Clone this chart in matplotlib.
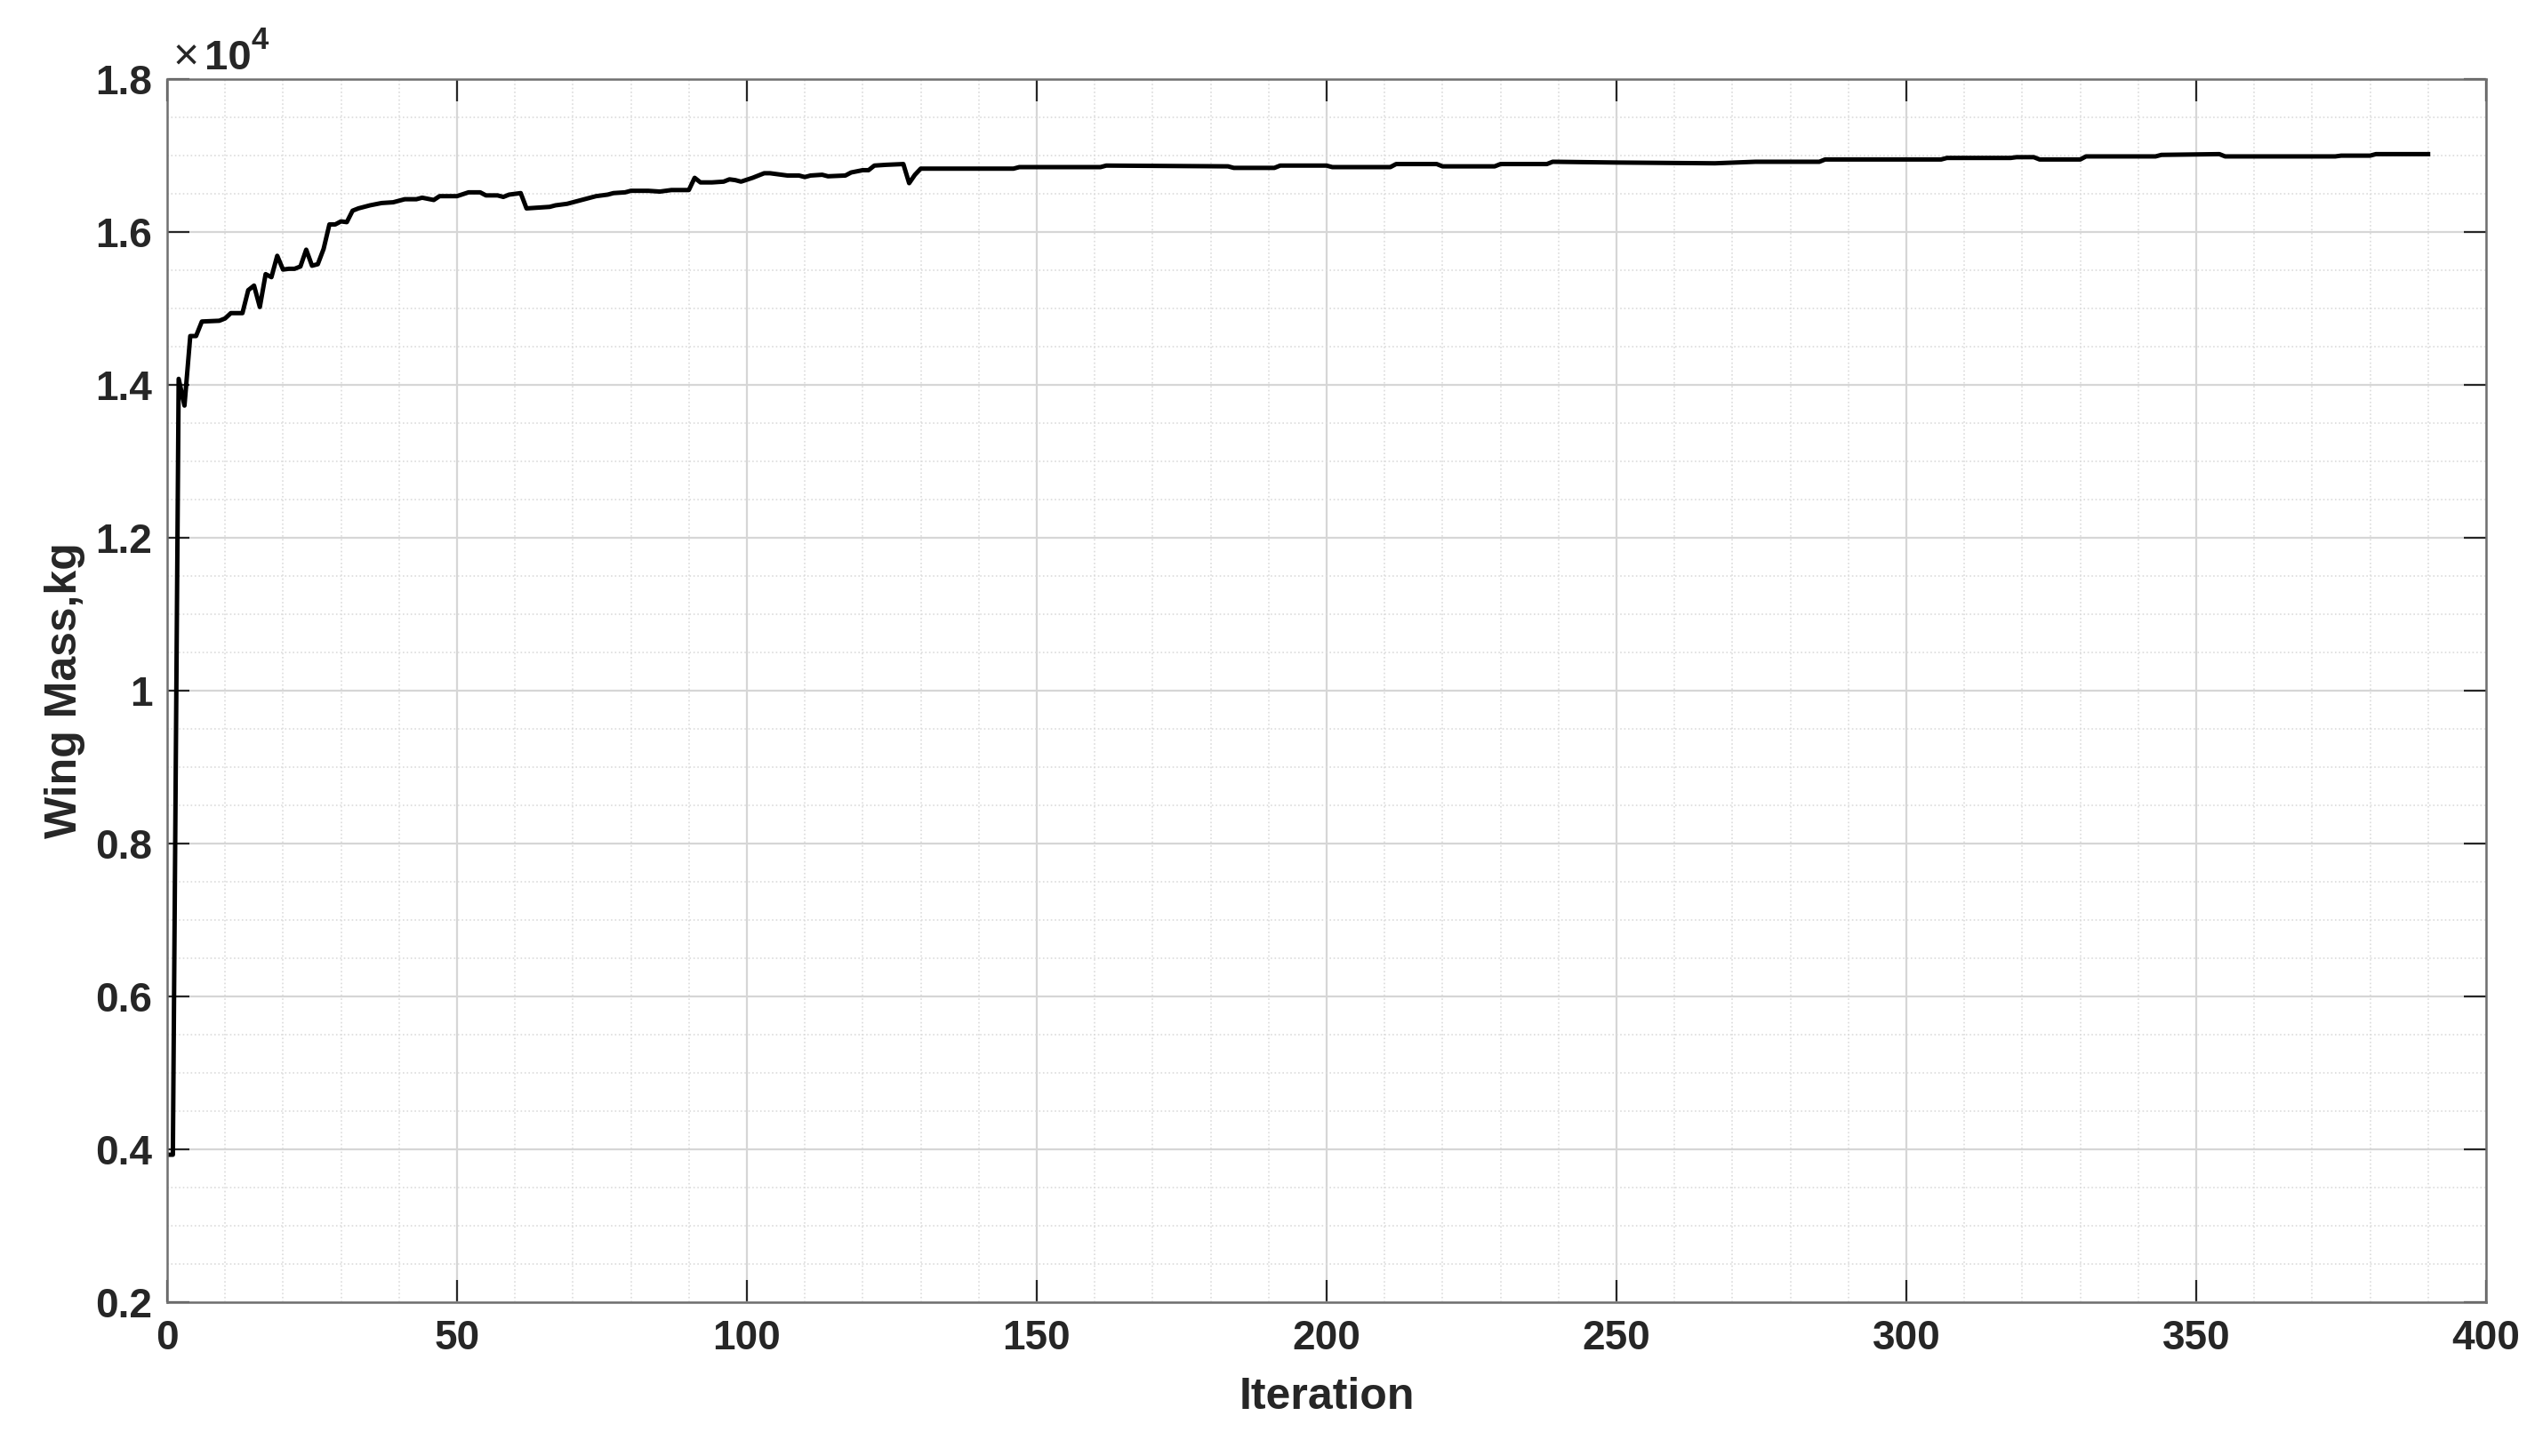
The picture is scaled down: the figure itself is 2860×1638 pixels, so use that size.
import matplotlib

matplotlib.use("Agg")
import matplotlib.pyplot as plt
from matplotlib.ticker import FixedLocator, MultipleLocator

# wing mass history (iteration, kg)
iteration = [
    0, 1, 2, 3, 4, 5, 6, 9, 10, 11, 13, 14, 15, 16, 17, 18, 19, 20, 21, 22,
    23, 24, 25, 26, 27, 28, 29, 30, 31, 32, 33, 34, 35, 37, 39, 41, 43, 44,
    46, 47, 50, 52, 54, 55, 57, 58, 59, 61, 62, 66, 67, 69, 71, 74, 76, 77,
    79, 80, 83, 85, 87, 90, 91, 92, 94, 96, 97, 98, 99, 101, 102, 103, 104,
    107, 109, 110, 111, 113, 114, 117, 118, 120, 121, 122, 124, 127, 128,
    129, 130, 146, 147, 161, 162, 183, 184, 191, 192, 200, 201, 211, 212,
    219, 220, 229, 230, 238, 239, 250, 267, 274, 285, 286, 294, 295, 306,
    307, 318, 319, 322, 323, 330, 331, 343, 344, 354, 355, 374, 375, 380,
    381, 390,
]
wing_mass = [
    3930, 3930, 14080, 13730, 14640, 14640, 14830, 14840, 14870, 14940,
    14940, 15240, 15300, 15020, 15450, 15410, 15690, 15510, 15520, 15520,
    15550, 15770, 15560, 15580, 15780, 16100, 16100, 16140, 16130, 16280,
    16310, 16330, 16350, 16380, 16390, 16430, 16430, 16450, 16420, 16470,
    16470, 16520, 16520, 16480, 16480, 16460, 16490, 16510, 16310, 16330,
    16350, 16370, 16410, 16470, 16490, 16510, 16520, 16540, 16540, 16530,
    16550, 16550, 16710, 16650, 16650, 16660, 16690, 16680, 16660, 16710,
    16740, 16770, 16770, 16740, 16740, 16720, 16740, 16750, 16730, 16740,
    16780, 16810, 16810, 16870, 16880, 16890, 16640, 16750, 16830, 16830,
    16850, 16850, 16870, 16860, 16840, 16840, 16870, 16870, 16850, 16850,
    16890, 16890, 16860, 16860, 16890, 16890, 16920, 16910, 16900, 16920,
    16920, 16950, 16950, 16950, 16950, 16970, 16970, 16980, 16980, 16950,
    16950, 16990, 16990, 17010, 17020, 16990, 16990, 17000, 17000, 17020,
    17020,
]

x_ticks = [0, 50, 100, 150, 200, 250, 300, 350, 400]
y_ticks = [2000, 4000, 6000, 8000, 10000, 12000, 14000, 16000, 18000]
y_tick_labels = ["0.2", "0.4", "0.6", "0.8", "1", "1.2", "1.4", "1.6", "1.8"]

TXT = "#262626"
plt.rcParams["font.family"] = ["Liberation Sans", "DejaVu Sans"]

fig = plt.figure(figsize=(14.3, 8.19), dpi=200)
ax = fig.add_axes([0.0657, 0.1056, 0.9119, 0.8400])

ax.plot(iteration, wing_mass, color="black", linewidth=1.8)

ax.set_xlim(0, 400)
ax.set_ylim(2000, 18000)
ax.xaxis.set_major_locator(FixedLocator(x_ticks))
ax.xaxis.set_minor_locator(MultipleLocator(10))
ax.set_yticks(y_ticks)
ax.set_yticklabels(y_tick_labels)
ax.yaxis.set_minor_locator(MultipleLocator(500))

ax.grid(which="major", color="#d6d6d6", linewidth=0.8, linestyle="-")
ax.grid(which="minor", color="#dcdcdc", linewidth=0.6, linestyle=":")
ax.set_axisbelow(True)

ax.tick_params(which="major", direction="in", length=9, width=0.8,
               color=TXT, top=True, right=True, labelsize=16.5,
               labelcolor=TXT, pad=6)
ax.tick_params(axis="x", which="major", pad=7)
ax.tick_params(which="minor", length=0)
for lab in ax.get_xticklabels() + ax.get_yticklabels():
    lab.set_fontweight("bold")
for sp in ax.spines.values():
    sp.set_color("#707070")
    sp.set_linewidth(0.9)

ax.set_xlabel("Iteration", fontsize=18, fontweight="bold", color=TXT)
ax.xaxis.label.set_va("center")
ax.xaxis.set_label_coords(0.5, -0.078)
ax.set_ylabel("Wing Mass,kg", fontsize=18, fontweight="bold", color=TXT)
ax.yaxis.label.set_va("center")
ax.yaxis.set_label_coords(-0.044, 0.5)

# MATLAB-style exponent label
ax.text(0.0027, 1.008, "\u00d7", transform=ax.transAxes, fontsize=18,
        color=TXT, va="baseline", ha="left")
ax.text(0.0161, 1.008, "10", transform=ax.transAxes, fontsize=17,
        fontweight="bold", color=TXT, va="baseline", ha="left")
ax.text(0.0364, 1.0247, "4", transform=ax.transAxes, fontsize=12.5,
        fontweight="bold", color=TXT, va="baseline", ha="left")

fig.savefig("out.png", dpi=200, facecolor="white")
